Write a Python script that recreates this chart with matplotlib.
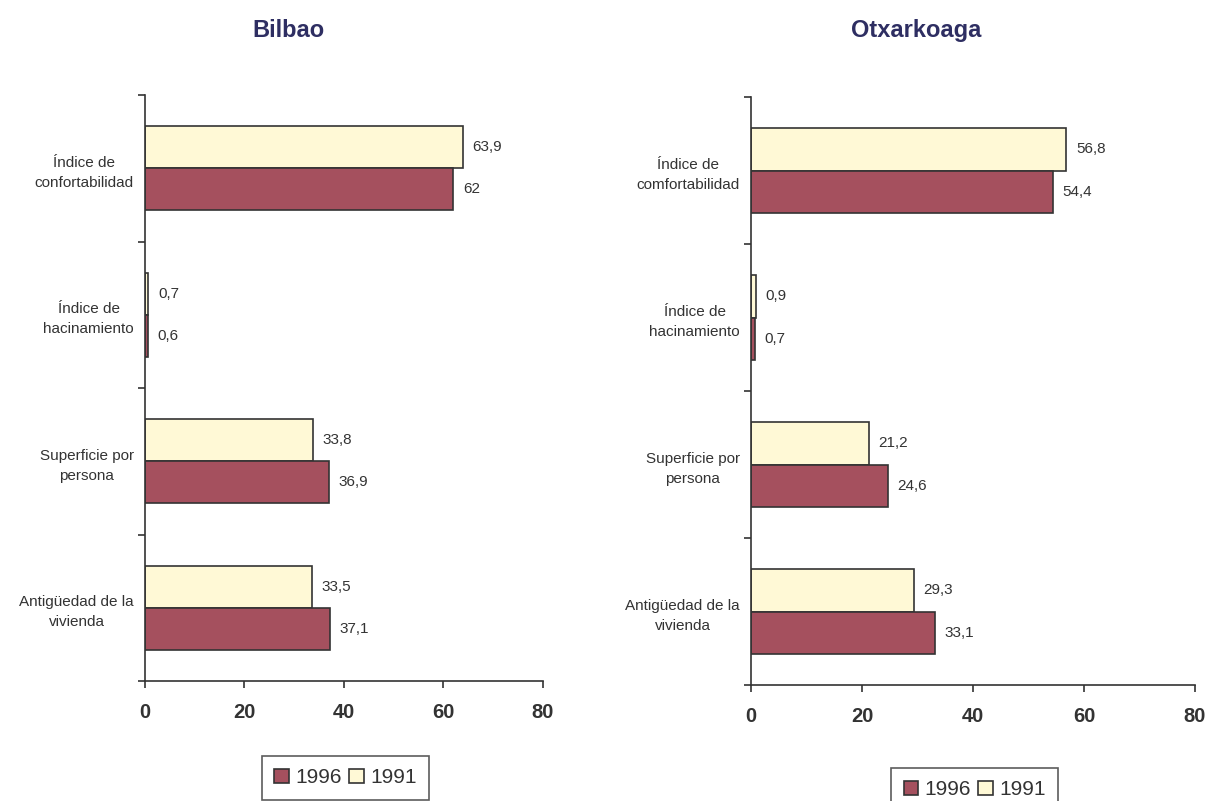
import numpy as np
import matplotlib
matplotlib.use("Agg")
import matplotlib.pyplot as plt
from matplotlib.patches import Patch

plt.rcParams['font.family'] = ['Liberation Sans', 'DejaVu Sans']

INK = '#333333'
C1996 = '#A5505E'
C1991 = '#FFF9D6'

years = ['1996', '1991']

bilbao_cats = ['Índice de\nconfortabilidad', 'Índice de\nhacinamiento',
               'Superficie por\npersona', 'Antigüedad de la\nvivienda']
bilbao_1991 = [63.9, 0.7, 33.8, 33.5]
bilbao_1996 = [62, 0.6, 36.9, 37.1]

otx_cats = ['Índice de\ncomfortabilidad', 'Índice de\nhacinamiento',
            'Superficie por\npersona', 'Antigüedad de la\nvivienda']
otx_1991 = [56.8, 0.9, 21.2, 29.3]
otx_1996 = [54.4, 0.7, 24.6, 33.1]

x_ticks = [0, 20, 40, 60, 80]


def fmt(v):
    return f"{v:g}".replace('.', ',')


def draw_panel(ax, cats, v1991, v1996):
    n = len(cats)
    y = np.arange(n)
    h = 0.287
    b1 = ax.barh(y - h / 2, v1991, height=h, color=C1991,
                 edgecolor=INK, linewidth=1.2)
    b2 = ax.barh(y + h / 2, v1996, height=h, color=C1996,
                 edgecolor=INK, linewidth=1.2)
    for bars, vals in ((b1, v1991), (b2, v1996)):
        for bar, v in zip(bars, vals):
            ax.annotate(fmt(v), (v, bar.get_y() + bar.get_height() / 2),
                        xytext=(7, 0), textcoords='offset points',
                        va='center', ha='left', fontsize=11, color=INK)

    ax.set_xlim(0, 80)
    ax.set_ylim(n - 0.5, -0.5)
    ax.set_xticks(x_ticks)
    ax.set_xticklabels([str(t) for t in x_ticks], fontsize=14.5,
                       fontweight='bold', color=INK)
    ax.tick_params(axis='x', length=5, width=1.2, color=INK, pad=11)

    ax.set_yticks(y)
    ax.set_yticklabels(cats, fontsize=11, color=INK, linespacing=1.55)
    for lab in ax.get_yticklabels():
        lab.set_multialignment('center')
    ax.tick_params(axis='y', which='major', length=0, pad=8)
    ax.set_yticks(np.arange(-0.5, n, 1.0), minor=True)
    ax.tick_params(axis='y', which='minor', length=5, width=1.2, color=INK)

    for side in ('top', 'right'):
        ax.spines[side].set_visible(False)
    for side in ('left', 'bottom'):
        ax.spines[side].set_color(INK)
        ax.spines[side].set_linewidth(1.2)


fig = plt.figure(figsize=(12.1, 8.01), dpi=100)
ax1 = fig.add_axes([0.1198, 0.1498, 0.3289, 0.7316])
ax2 = fig.add_axes([0.6207, 0.1448, 0.3669, 0.7341])

draw_panel(ax1, bilbao_cats, bilbao_1991, bilbao_1996)
draw_panel(ax2, otx_cats, otx_1991, otx_1996)

fig.text(0.238, 0.962, 'Bilbao', ha='center', va='center',
         fontsize=17, fontweight='bold', color='#2E2E62')
fig.text(0.757, 0.962, 'Otxarkoaga', ha='center', va='center',
         fontsize=17, fontweight='bold', color='#2E2E62')

handles = [Patch(facecolor=C1996, edgecolor=INK, linewidth=1.2),
           Patch(facecolor=C1991, edgecolor=INK, linewidth=1.2)]
for cx, top in ((0.2855, 0.0562), (0.8054, 0.0412)):
    leg = fig.legend(handles, years, loc='upper center', bbox_to_anchor=(cx, top),
                     ncol=2, fontsize=15, frameon=True, fancybox=False,
                     handlelength=0.7, handleheight=0.7, handletextpad=0.3,
                     columnspacing=0.35, borderpad=0.6, borderaxespad=0,
                     labelcolor=INK)
    leg.get_frame().set_edgecolor(INK)
    leg.get_frame().set_linewidth(1.2)

fig.savefig('out.png', dpi=100)
